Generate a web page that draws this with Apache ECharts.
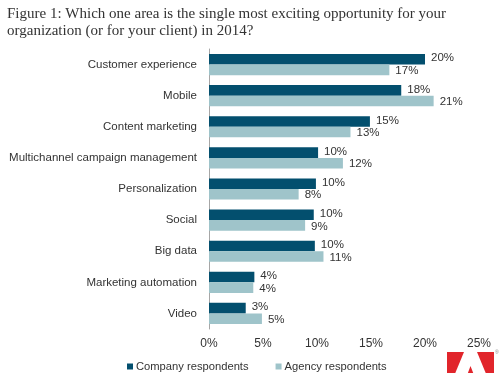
<!DOCTYPE html>
<html>
<head>
<meta charset="utf-8">
<script src="https://cdn.jsdelivr.net/npm/echarts@6/dist/echarts.min.js"></script>
<style>html,body{margin:0;padding:0;background:#fff;}#c{width:500px;height:373px;}</style>
</head>
<body>
<div id="c"></div>
<script>
const titleText = 'Figure 1: Which one area is the single most exciting opportunity for your\norganization (or for your client) in 2014?';
const categories = ['Customer experience', 'Mobile', 'Content marketing', 'Multichannel campaign management', 'Personalization', 'Social', 'Big data', 'Marketing automation', 'Video'];
const seriesNames = ['Company respondents', 'Agency respondents'];
const companyValues = [20, 17.8, 14.9, 10.1, 9.9, 9.7, 9.8, 4.2, 3.4];
const agencyValues = [16.7, 20.8, 13.1, 12.4, 8.3, 8.9, 10.6, 4.1, 4.9];
const xTicks = { min: 0, max: 25, interval: 5 };

const chart = echarts.init(document.getElementById('c'), null, { renderer: 'canvas' });
const sans = 'Liberation Sans, Arial, sans-serif';
const labelCfg = {
  show: true, position: 'right', distance: 6, color: '#333', fontFamily: sans, fontSize: 11.5,
  formatter: p => Math.round(p.value) + '%'
};
chart.setOption({
  animation: false,
  title: {
    text: titleText, left: 2, top: 1,
    textStyle: { fontFamily: 'Liberation Serif, Times New Roman, serif', fontWeight: 'normal', fontSize: 15, color: '#333', lineHeight: 17 }
  },
  legend: {
    data: seriesNames, left: 122, top: 356, itemWidth: 6, itemHeight: 6, icon: 'rect', itemGap: 27,
    textStyle: { fontFamily: sans, fontSize: 11.2, color: '#333', padding: [0, 0, 0, -2] }
  },
  grid: { left: 209, right: 21, top: 49, bottom: 44, containLabel: false },
  xAxis: {
    type: 'value', min: xTicks.min, max: xTicks.max, interval: xTicks.interval,
    axisLine: { show: false }, axisTick: { show: false }, splitLine: { show: false },
    axisLabel: { formatter: '{value}%', color: '#333', fontFamily: sans, fontSize: 12, margin: 9 }
  },
  yAxis: {
    type: 'category', data: categories, inverse: true,
    axisLine: { show: true, lineStyle: { color: '#a6a6a6', width: 1 } },
    axisTick: { show: false },
    axisLabel: { color: '#333', fontFamily: sans, fontSize: 11.5, margin: 12 }
  },
  series: [
    { name: seriesNames[0], type: 'bar', data: companyValues, barGap: '0%', barCategoryGap: '32%',
      itemStyle: { color: '#034f6e' }, label: Object.assign({}, labelCfg, { offset: [0, -1] }) },
    { name: seriesNames[1], type: 'bar', data: agencyValues, barGap: '0%', barCategoryGap: '32%',
      itemStyle: { color: '#9fc4ca' }, label: Object.assign({}, labelCfg, { offset: [0, 1] }) }
  ],
  graphic: [
    { type: 'polygon', shape: { points: [[447, 352], [464, 352], [447, 393]] }, style: { fill: '#e1252b' } },
    { type: 'polygon', shape: { points: [[477, 352], [494, 352], [494, 393]] }, style: { fill: '#e1252b' } },
    { type: 'polygon', shape: { points: [[470.5, 366], [481, 393], [474, 393], [471, 386], [463, 386]] }, style: { fill: '#e1252b' } },
    { type: 'text', left: 495, top: 350, style: { text: '®', fontSize: 5, fill: '#888' } }
  ]
});
</script>
</body>
</html>
